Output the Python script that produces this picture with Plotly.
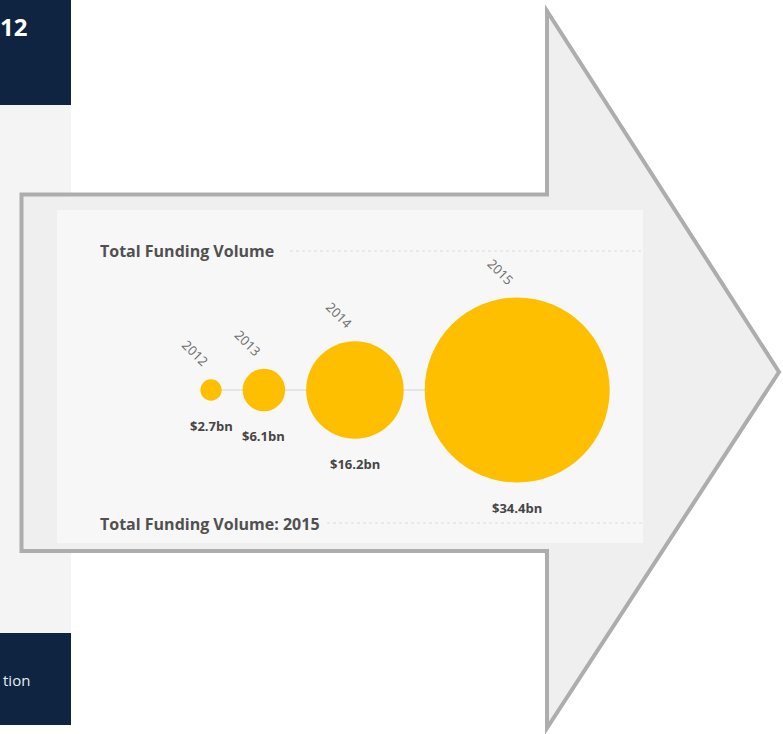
import plotly.graph_objects as go

# ---- data ----
years = ["2012", "2013", "2014", "2015"]
values = [2.7, 6.1, 16.2, 34.4]          # total funding volume, $bn
value_labels = ["$2.7bn", "$6.1bn", "$16.2bn", "$34.4bn"]
chart_title = "Total Funding Volume"
footer_title = "Total Funding Volume: 2015"

# ---- layout constants (pixels) ----
W, H = 783, 734
BASE_Y = 390          # baseline of bubbles
X0 = 211              # center of first bubble
GAP = 21              # gap between bubbles
D_MAX = 185           # diameter of largest bubble
P = 0.85              # size exponent
BUBBLE = "#FDBF00"

vmax = max(values)
diam = [D_MAX * (v / vmax) ** P for v in values]
centers = [X0]
for i in range(1, len(values)):
    centers.append(centers[-1] + diam[i - 1] / 2 + GAP + diam[i] / 2)

fig = go.Figure()

# connecting line
fig.add_trace(go.Scatter(
    x=centers, y=[BASE_Y] * len(values), mode="lines",
    line=dict(color="#d4d4d4", width=1), hoverinfo="skip"))

# bubbles
fig.add_trace(go.Scatter(
    x=centers, y=[BASE_Y] * len(values), mode="markers",
    marker=dict(size=[v ** P for v in values], sizemode="diameter",
                sizeref=vmax ** P / D_MAX, color=BUBBLE,
                line=dict(width=0), opacity=1),
    text=years, hoverinfo="text"))

shapes = []
NAVY = "#0E2441"
# left background page pieces
shapes.append(dict(type="rect", x0=0, x1=71, y0=0, y1=105, fillcolor=NAVY, line=dict(width=0), layer="below"))
shapes.append(dict(type="rect", x0=0, x1=71, y0=105, y1=633, fillcolor="#F4F4F4", line=dict(width=0), layer="below"))
shapes.append(dict(type="rect", x0=0, x1=71, y0=633, y1=725, fillcolor=NAVY, line=dict(width=0), layer="below"))
# arrow
shapes.append(dict(type="path",
                   path="M 21.5 194.5 L 547 194.5 L 547 11 L 779 372 L 547 728 L 547 551 L 21.5 551 Z",
                   fillcolor="#EFEFEF", line=dict(color="#ADADAD", width=4), layer="below"))
# chart panel
shapes.append(dict(type="rect", x0=57, x1=643, y0=210, y1=543, fillcolor="#F7F7F7", line=dict(width=0), layer="below"))
# dotted rules
shapes.append(dict(type="line", x0=290, x1=643, y0=251, y1=251, line=dict(color="#dcdcdc", width=1, dash="dot"), layer="below"))
shapes.append(dict(type="line", x0=327, x1=643, y0=523, y1=523, line=dict(color="#dcdcdc", width=1, dash="dot"), layer="below"))
for s in shapes:
    s.update(xref="x", yref="y")

FONT = "Open Sans"
annotations = []
annotations.append(dict(x=98, y=251, text="<b>" + chart_title + "</b>", xanchor="left", yanchor="middle",
                        font=dict(family=FONT, size=16, color="#505050")))
annotations.append(dict(x=98, y=524, text="<b>" + footer_title + "</b>", xanchor="left", yanchor="middle",
                        font=dict(family=FONT, size=16, color="#505050")))
annotations.append(dict(x=29, y=26, text="<b>12</b>", xanchor="right", yanchor="middle",
                        font=dict(family=FONT, size=24, color="#ffffff")))
annotations.append(dict(x=32, y=680, text="tion", xanchor="right", yanchor="middle",
                        font=dict(family=FONT, size=15, color="#e6ebf1")))

for cx, d, yr, lab in zip(centers, diam, years, value_labels):
    annotations.append(dict(x=cx - 16, y=BASE_Y - d / 2 - 26, text=yr, textangle=45,
                            xanchor="center", yanchor="middle",
                            font=dict(family=FONT, size=13, color="#6a6a6a")))
    annotations.append(dict(x=cx, y=BASE_Y + d / 2 + 25, text="<b>" + lab + "</b>",
                            xanchor="center", yanchor="middle",
                            font=dict(family=FONT, size=13, color="#454545")))
for a in annotations:
    a.update(xref="x", yref="y", showarrow=False)

fig.update_layout(
    width=W, height=H, margin=dict(l=0, r=0, t=0, b=0),
    paper_bgcolor="#ffffff", plot_bgcolor="#ffffff",
    showlegend=False, shapes=shapes, annotations=annotations,
    xaxis=dict(range=[0, W], visible=False, fixedrange=True),
    yaxis=dict(range=[H, 0], visible=False, fixedrange=True),
)

fig.write_html("out.html", config={"displayModeBar": False},
               post_script="document.body.style.margin='0';document.body.style.overflow='hidden';")
